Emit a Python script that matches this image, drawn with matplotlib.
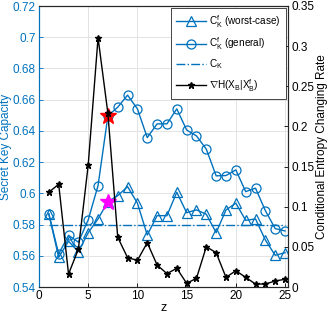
import matplotlib.pyplot as plt
import numpy as np

plt.rcParams['font.family'] = ['Liberation Sans', 'DejaVu Sans']
plt.rcParams['mathtext.fontset'] = 'custom'
plt.rcParams['mathtext.rm'] = 'Liberation Sans'
plt.rcParams['mathtext.it'] = 'Liberation Sans'

z = np.arange(1, 26)
worst = [0.5868, 0.559, 0.5693, 0.5626, 0.5748, 0.5836, 0.5947, 0.5985, 0.6043, 0.5937,
         0.5733, 0.5857, 0.5857, 0.6007, 0.5876, 0.5894, 0.5866, 0.5748, 0.5894, 0.5937,
         0.5827, 0.5836, 0.5701, 0.5603, 0.562]
general = [0.5868, 0.5612, 0.5731, 0.5687, 0.583, 0.605, 0.6496, 0.6552, 0.6629, 0.6541,
           0.6357, 0.6445, 0.6445, 0.6541, 0.6406, 0.6368, 0.6283, 0.6112, 0.6114, 0.615,
           0.6011, 0.6033, 0.5889, 0.5774, 0.5759]
ck = 0.5794
grad = [0.118, 0.128, 0.0162, 0.047, 0.152, 0.3105, 0.2163, 0.0619, 0.0365, 0.0332,
        0.0552, 0.0274, 0.0166, 0.0233, 0.0046, 0.0108, 0.0502, 0.0427, 0.012, 0.0203,
        0.012, 0.0037, 0.0037, 0.0075, 0.0096]
star_z = 7

blue = '#0072BD'
fig = plt.figure(figsize=(3.32, 3.21), dpi=100)
ax = fig.add_axes([39/332, 1-287/321, 249/332, 281/321])
ax2 = ax.twinx()

l1, = ax.plot(z, worst, '-^', color=blue, lw=1, mfc='none', ms=6.5, mew=0.9)
l2, = ax.plot(z, general, '-o', color=blue, lw=1, mfc='none', ms=6.5, mew=0.9)
l3, = ax.plot([z[0], z[-1]], [ck, ck], '-.', color=blue, lw=1)
ax.plot(star_z, general[star_z-1], '*', color='red', ms=12, zorder=5)
ax.plot(star_z, worst[star_z-1], '*', color='magenta', ms=12, zorder=5)
l4, = ax2.plot(z, grad, '-*', color='black', lw=1, ms=5)

ax.set_xlim(0, 25.3)
ax.set_ylim(0.54, 0.72)
ax.set_yticks(np.arange(0.54, 0.7201, 0.02))
ax.set_yticklabels(['0.54', '0.56', '0.58', '0.6', '0.62', '0.64', '0.66', '0.68', '0.7', '0.72'])
ax.set_xticks([0, 5, 10, 15, 20, 25])
ax2.set_ylim(0, 0.35)
ax2.set_yticks(np.arange(0, 0.351, 0.05))
ax2.set_yticklabels(['0', '0.05', '0.1', '0.15', '0.2', '0.25', '0.3', '0.35'])

ax.grid(True, color='#e3e3e3', lw=0.7)
ax.set_axisbelow(True)
for a in (ax, ax2):
    a.tick_params(direction='in', length=3, labelsize=8.5, width=0.6, pad=2.5)
ax.tick_params(axis='y', colors=blue)
ax.spines['left'].set_color(blue)
ax2.spines['left'].set_color(blue)
for s in ['bottom', 'top', 'right']:
    ax2.spines[s].set_color('#262626')
    ax.spines[s].set_color('#262626')

ax.set_xlabel('z', fontsize=9, labelpad=0)
ax.set_ylabel('Secret Key Capacity', fontsize=8.5, color=blue, labelpad=0)
ax2.set_ylabel('Conditional Entropy Changing Rate', fontsize=8.5, labelpad=1)

leg = ax2.legend([l1, l2, l3, l4],
                 [r'C$_\mathrm{K}^\mathrm{f}$ (worst-case)', r'C$_\mathrm{K}^\mathrm{f}$ (general)',
                  r'C$_\mathrm{K}$', r'$\nabla$H(X$_\mathrm{B}$|X$_\mathrm{B}^\mathrm{f}$)'],
                 loc='upper right', fontsize=7.2, fancybox=False, edgecolor='#262626',
                 framealpha=1, handlelength=3.0, borderaxespad=0.2, labelspacing=0.55,
                 handletextpad=0.3, borderpad=0.5)
leg.get_frame().set_linewidth(0.6)

fig.savefig('out.png', dpi=100)
